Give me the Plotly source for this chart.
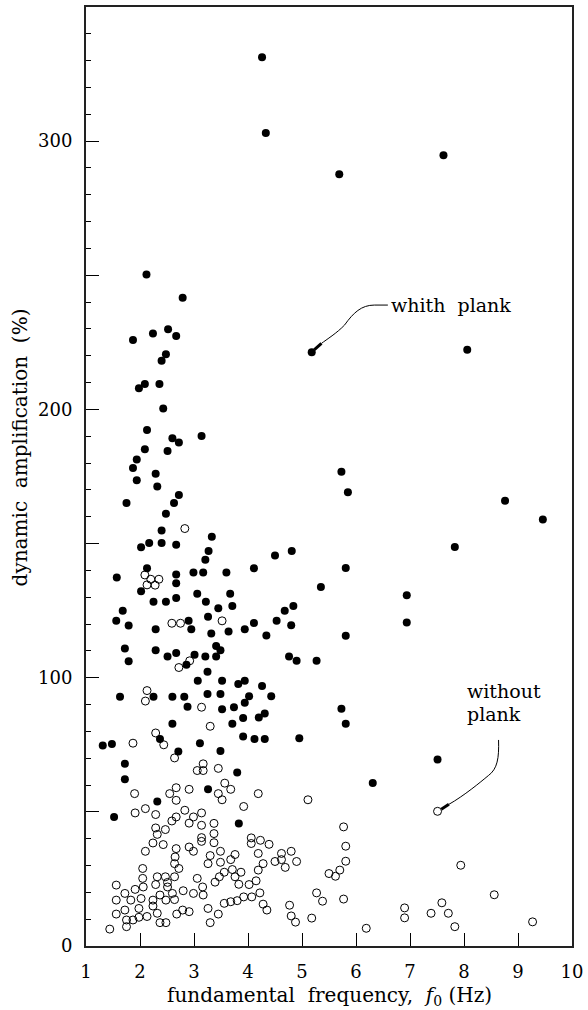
import plotly.graph_objects as go

# Dynamic amplification vs fundamental frequency, with and without a plank
with_plank_f0 = [
    4.26, 4.33, 5.69, 7.62,
    2.12, 2.79, 2.52, 2.24, 2.67, 1.87, 2.48, 2.40, 2.36, 2.09, 1.98, 2.43, 2.13, 3.14,
    2.60, 2.72, 2.09, 2.51, 1.94, 1.87, 2.29, 1.94, 2.32, 2.72, 1.75, 2.63,
    2.48, 2.40, 3.33, 2.02, 2.17, 2.40, 2.67, 3.27, 3.21, 4.50, 4.81, 4.11, 2.13, 1.57,
    2.67, 2.67, 2.99, 3.17, 3.60, 2.02, 3.06, 3.67, 2.67, 2.25, 2.48, 3.22, 3.71, 3.45,
    1.68, 3.26, 4.68, 4.84, 1.56, 1.79, 2.90, 2.95, 2.29, 3.32, 3.64, 3.94, 4.11, 4.34,
    4.53, 4.80, 1.72, 1.79, 2.29, 2.51, 2.67, 3.01, 3.21, 3.41, 3.41, 3.49, 2.86, 3.25,
    3.07, 3.52, 3.82, 3.94, 4.26, 4.76, 4.90, 1.63, 2.25, 2.60, 2.82, 3.25, 3.49, 4.02,
    4.43, 2.88, 3.52, 3.74, 3.94,
    3.91, 4.20, 4.31, 2.60, 3.71, 1.31, 1.48, 2.37, 3.11, 3.91, 4.12, 4.31, 2.71, 3.49,
    1.72, 1.72, 3.80, 3.26, 2.32, 1.52, 3.83,
    5.73, 5.81, 4.95, 7.51, 6.31,
    5.18, 8.06, 5.73, 5.85, 8.76, 9.46, 7.83, 5.81, 5.35, 6.94, 6.94, 5.81, 5.27,
]
with_plank_amp = [
    331.3, 303.0, 287.7, 294.7,
    250.3, 241.6, 229.9, 228.3, 227.4, 225.9, 220.6, 218.1, 209.5, 209.5, 207.9, 200.3, 192.3, 190.1,
    189.3, 187.7, 185.2, 184.5, 181.3, 178.2, 176.0, 173.6, 171.3, 168.1, 165.1, 165.1,
    161.1, 154.9, 152.5, 148.6, 150.2, 150.2, 149.6, 147.2, 144.0, 145.6, 147.2, 140.8, 140.8, 137.4,
    138.5, 135.2, 139.2, 139.2, 139.2, 132.2, 131.3, 131.3, 129.7, 128.3, 128.3, 128.3, 126.7, 125.9,
    125.0, 122.7, 125.0, 126.7, 121.2, 119.5, 121.2, 118.1, 118.1, 116.5, 117.2, 118.1, 120.4, 115.7,
    121.2, 119.6, 110.9, 106.1, 110.2, 107.9, 109.2, 108.6, 107.9, 107.9, 111.8, 110.2, 104.8, 102.2,
    98.9, 98.9, 97.7, 98.9, 96.9, 107.9, 106.3, 92.9, 92.9, 92.9, 92.9, 93.9, 93.9, 93.1,
    93.1, 89.2, 88.2, 89.0, 90.7,
    85.0, 85.2, 86.7, 82.8, 82.8, 74.7, 75.3, 77.2, 75.6, 78.1, 77.2, 77.2, 72.5, 72.7,
    67.9, 62.2, 64.7, 58.4, 53.9, 48.1, 45.7,
    88.4, 82.8, 77.4, 69.5, 60.8,
    221.3, 222.2, 176.8, 169.1, 166.0, 159.0, 148.7, 140.9, 133.8, 130.7, 120.6, 115.6, 106.3,
]

without_plank_f0 = [
    2.83, 2.09, 2.20, 2.35, 2.13, 2.28, 2.59, 2.75, 3.52, 2.92, 2.72, 2.13, 2.10, 3.14,
    2.29, 2.44, 1.87, 3.30, 2.64, 3.06, 3.17, 3.17, 3.45, 1.90, 2.55, 2.67, 2.67, 2.91,
    3.45, 3.52, 3.57, 3.68, 4.19, 3.92, 1.91, 2.10, 2.29, 2.67, 2.59, 2.83, 2.91, 2.99,
    3.14, 3.14, 3.37, 2.29, 2.32, 2.47, 2.24, 2.43, 2.10, 2.67, 2.65, 2.64, 2.72, 2.91,
    2.99, 3.14, 3.14, 3.37, 3.37, 3.49, 3.30, 3.26, 3.49, 3.76, 3.68, 4.06, 4.06, 4.23,
    4.39, 4.19, 4.28, 4.19, 4.62, 4.50, 4.62, 4.69, 4.80, 4.90, 2.05, 2.05, 2.06, 2.32,
    2.29, 2.47, 2.51, 2.51, 2.64, 2.37, 2.48, 2.60, 2.64, 1.56, 1.56, 1.72, 1.83, 1.56,
    1.72, 1.75, 1.75, 1.87, 1.98, 1.98, 2.13, 1.91, 2.02, 2.24, 2.24, 2.32, 2.37, 2.48,
    1.44, 2.68, 2.79, 2.91, 2.80, 2.99, 3.06, 3.16, 3.17, 3.26, 3.30, 3.45, 3.39, 3.47,
    3.56, 3.71, 3.76, 3.83, 3.87, 4.02, 4.15, 3.56, 3.68, 3.80, 3.92, 4.07, 4.22, 4.28,
    4.35, 4.77, 4.80, 4.88,
    5.11, 7.51, 5.77, 5.81, 5.81, 5.50, 5.62, 5.70, 5.27, 5.38, 5.77, 5.18, 6.19, 6.90,
    6.90, 7.39, 7.59, 7.71, 7.83, 7.94, 8.56, 9.27,
]
without_plank_amp = [
    155.6, 138.3, 136.7, 136.7, 134.6, 134.5, 120.3, 120.3, 121.2, 106.3, 103.8, 95.2, 91.3, 89.0,
    79.4, 75.0, 75.6, 81.9, 70.1, 65.4, 65.4, 67.9, 66.2, 56.8, 56.8, 59.0, 54.3, 58.4,
    56.8, 54.5, 60.7, 58.4, 56.8, 52.0, 49.6, 51.2, 49.0, 48.1, 46.6, 50.6, 45.8, 48.1,
    49.6, 45.0, 45.7, 44.0, 41.6, 43.4, 38.4, 37.8, 35.3, 36.3, 33.2, 30.7, 28.9, 36.9,
    35.3, 40.4, 39.0, 41.9, 38.5, 35.3, 33.7, 30.7, 31.2, 34.1, 32.2, 40.3, 38.2, 39.4,
    37.9, 34.5, 30.7, 28.3, 34.5, 31.5, 32.2, 29.3, 35.3, 31.5, 28.9, 25.2, 22.0, 25.8,
    22.9, 25.8, 23.7, 22.0, 25.8, 19.0, 17.1, 19.6, 17.3, 22.7, 17.1, 19.6, 17.1, 11.9,
    13.4, 9.7, 7.2, 9.7, 14.0, 10.7, 11.0, 21.1, 17.7, 17.1, 14.9, 12.2, 8.7, 8.7,
    6.3, 11.9, 13.4, 12.8, 20.6, 19.6, 25.2, 22.0, 19.0, 14.0, 8.7, 11.9, 23.8, 25.8,
    27.5, 28.5, 25.8, 23.0, 27.5, 22.9, 24.3, 15.9, 16.5, 16.9, 18.3, 18.3, 19.8, 15.6,
    13.4, 15.2, 11.2, 8.9,
    54.5, 50.2, 44.4, 37.2, 31.6, 27.0, 26.0, 28.3, 19.8, 16.7, 17.5, 10.4, 6.6, 14.2,
    10.5, 12.2, 16.1, 12.2, 7.2, 30.1, 19.1, 9.0,
]

x_ticks = [1, 2, 3, 4, 5, 6, 7, 8, 9, 10]
y_ticks = [0, 50, 100, 150, 200, 250, 300]
y_tick_text = ["0", "", "100", "", "200", "", "300"]

FONT = "DejaVu Serif, serif"

fig = go.Figure()
fig.add_trace(go.Scatter(
    x=without_plank_f0, y=without_plank_amp, mode="markers", name="without plank",
    marker=dict(symbol="circle-open", size=8, color="black", line=dict(width=1, color="black")),
))
fig.add_trace(go.Scatter(
    x=with_plank_f0, y=with_plank_amp, mode="markers", name="whith plank",
    marker=dict(symbol="circle", size=8, color="black"),
))

# leader lines for the two labels
fig.add_shape(type="path", xref="x", yref="y",
              path="M 6.59,238.9 L 6.34,238.9 C 6.1,238.9 5.95,236 5.79,231.5 C 5.65,228.5 5.45,226 5.36,224.6",
              line=dict(color="black", width=1))
fig.add_shape(type="line", xref="x", yref="y", x0=5.36, y0=224.6, x1=5.23, y1=222.3,
              line=dict(color="black", width=3))
fig.add_shape(type="path", xref="x", yref="y",
              path="M 8.64,76.8 C 8.65,70 8.62,66 8.45,63.5 C 8.3,61 8.0,56 7.72,52.8",
              line=dict(color="black", width=1))
fig.add_shape(type="line", xref="x", yref="y", x0=7.72, y0=52.8, x1=7.58, y1=51.0,
              line=dict(color="black", width=3))

fig.add_annotation(x=6.62, y=239, xref="x", yref="y", text="whith  plank", showarrow=False,
                   xanchor="left", yanchor="middle", font=dict(family=FONT, size=19, color="black"))
fig.add_annotation(x=8.02, y=95.2, xref="x", yref="y", text="without", showarrow=False,
                   xanchor="left", yanchor="middle", font=dict(family=FONT, size=19, color="black"))
fig.add_annotation(x=8.02, y=86.6, xref="x", yref="y", text="plank", showarrow=False,
                   xanchor="left", yanchor="middle", font=dict(family=FONT, size=19, color="black"))

# y-axis title, placed a little above the plot's mid-height
fig.add_annotation(x=-0.135, y=186, xref="paper", yref="y", text="dynamic  amplification  (%)",
                   showarrow=False, textangle=-90, xanchor="center", yanchor="middle",
                   font=dict(family=FONT, size=20, color="black"))

# x-axis title as a text block below the tick labels
fig.add_annotation(x=0.5, y=-0.053, xref="paper", yref="paper",
                   text="fundamental  frequency,  <i>f</i><sub>0</sub> (Hz)",
                   showarrow=False, xanchor="center", yanchor="middle",
                   font=dict(family=FONT, size=20, color="black"))

fig.update_layout(
    width=588, height=1010,
    margin=dict(l=86, r=12, t=5, b=64),
    paper_bgcolor="white", plot_bgcolor="white",
    showlegend=False,
    font=dict(family=FONT, size=18, color="black"),
)
fig.update_xaxes(
    range=[1, 10], tickvals=x_ticks, ticks="inside", ticklen=13, tickwidth=1, tickcolor="black",
    showline=True, linecolor="#222", linewidth=2, mirror=True, showgrid=False, zeroline=False,
    ticklabelstandoff=8, ticklabeloverflow="allow",
    tickfont=dict(family=FONT, size=18),
)
fig.update_yaxes(
    range=[0, 350], tickvals=y_ticks, ticktext=y_tick_text, ticks="inside", ticklen=13,
    tickwidth=1, tickcolor="black",
    minor=dict(dtick=10, ticks="inside", ticklen=5, tickcolor="black", tickwidth=1),
    showline=True, linecolor="#222", linewidth=2, mirror=True, showgrid=False, zeroline=False,
    ticklabelstandoff=8,
    tickfont=dict(family=FONT, size=18),
)

fig.write_html("out.html")
